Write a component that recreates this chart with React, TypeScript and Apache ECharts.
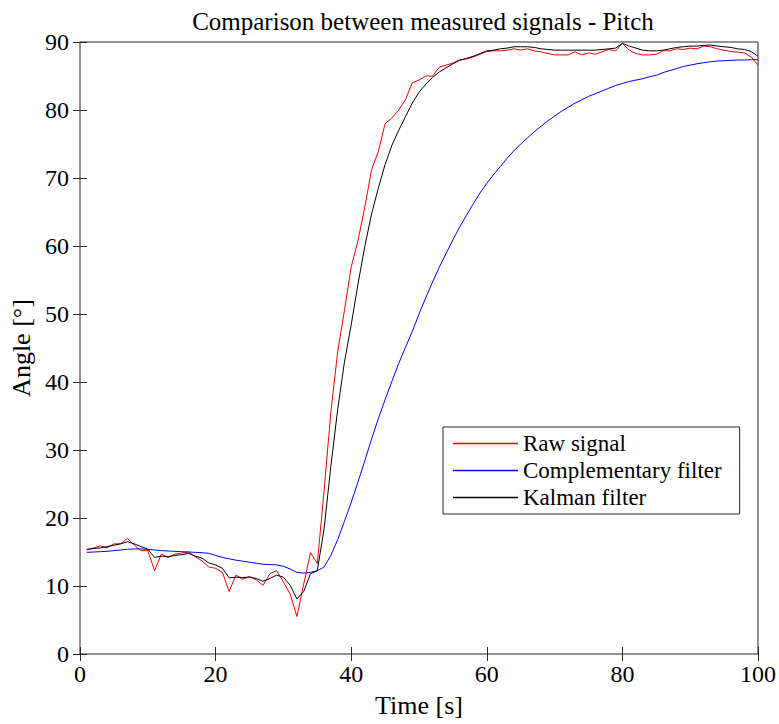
import React, { useEffect, useRef } from "react";
import * as echarts from "echarts";

// Sample times in seconds (one sample per second, 1..100)
const timeSec: number[] = Array.from({ length: 100 }, (_, i) => i + 1);

const xTicks = [0, 20, 40, 60, 80, 100];
const yTicks = [0, 10, 20, 30, 40, 50, 60, 70, 80, 90];

const seriesNames = ["Raw signal", "Complementary filter", "Kalman filter"];
const seriesColors = ["#ff0000", "#0000ff", "#000000"];

const rawSignal: number[] = [
  15.3, 15.6, 15.9, 15.6, 16.2, 16.2, 17.0, 16.0, 15.2, 15.2,
  12.25, 14.7, 14.2, 14.7, 14.85, 15.0, 14.3, 13.7, 12.8, 12.6,
  12.0, 9.2, 11.6, 11.0, 11.4, 10.9, 10.1, 11.8, 12.25, 10.6,
  8.8, 5.5, 10.3, 14.9, 13.3, 24.0, 35.6, 44.4, 50.5, 56.9,
  60.8, 65.7, 71.2, 73.9, 78.0, 78.8, 80.0, 81.5, 84.0, 84.4,
  85.0, 85.0, 86.3, 86.6, 86.9, 87.4, 87.5, 87.8, 88.2, 88.6,
  88.7, 88.7, 88.8, 89.0, 88.8, 89.0, 88.7, 88.55, 88.3, 88.1,
  88.1, 88.1, 88.55, 88.1, 88.4, 88.2, 88.55, 88.9, 88.7, 89.8,
  88.8, 88.3, 88.1, 88.1, 88.2, 88.7, 88.7, 89.0, 88.9, 89.1,
  89.0, 89.4, 89.3, 89.0, 88.8, 88.6, 88.5, 88.4, 87.8, 86.6,
];

const complementary: number[] = [
  14.95, 15.0, 15.05, 15.1, 15.2, 15.3, 15.4, 15.45, 15.45, 15.4,
  15.3, 15.2, 15.15, 15.1, 15.05, 15.0, 14.95, 14.9, 14.8, 14.5,
  14.2, 14.0, 13.8, 13.65, 13.5, 13.35, 13.2, 13.15, 13.1, 12.9,
  12.5, 12.0, 11.9, 12.0, 12.25, 12.8, 14.5, 16.8, 19.5, 22.3,
  25.3, 28.4, 31.6, 34.6, 37.4, 40.1, 42.7, 45.1, 47.4, 50.0,
  52.4, 54.7, 56.9, 58.9, 60.9, 62.8, 64.5, 66.2, 67.8, 69.2,
  70.5, 71.7, 72.9, 74.0, 75.0, 75.9, 76.8, 77.6, 78.4, 79.1,
  79.8, 80.4, 81.0, 81.5, 82.0, 82.4, 82.8, 83.2, 83.6, 83.9,
  84.2, 84.4, 84.6, 84.9, 85.1, 85.5, 85.8, 86.1, 86.4, 86.6,
  86.8, 86.95, 87.1, 87.2, 87.25, 87.3, 87.35, 87.35, 87.4, 87.4,
];

const kalman: number[] = [
  15.4, 15.5, 15.6, 15.8, 16.0, 16.2, 16.5, 16.2, 15.8, 15.4,
  14.2, 14.4, 14.3, 14.5, 14.6, 14.8, 14.4, 14.1, 13.4, 13.1,
  12.6, 11.2, 11.3, 11.25, 11.3, 11.1, 10.7, 11.1, 11.6, 11.3,
  10.1, 8.1, 9.2, 11.8, 12.25, 18.4, 27.6, 35.9, 42.9, 48.4,
  54.4, 59.9, 64.7, 68.5, 72.0, 74.8, 77.0, 79.0, 81.0, 82.6,
  83.8, 84.8, 85.6, 86.2, 86.8, 87.3, 87.6, 87.9, 88.3, 88.7,
  88.8, 89.0, 89.1, 89.3, 89.3, 89.3, 89.2, 89.0, 88.9, 88.8,
  88.8, 88.8, 88.8, 88.8, 88.8, 88.8, 88.9, 89.0, 89.1, 89.8,
  89.4, 89.1, 88.8, 88.7, 88.7, 88.8, 89.0, 89.2, 89.3, 89.4,
  89.4, 89.5, 89.55, 89.4, 89.3, 89.2, 89.0, 88.9, 88.6, 87.9,
];

const FONT = '"Liberation Serif", "Times New Roman", serif';
const AXIS_COLOR = "#262626";

export default function App() {
  const ref = useRef<HTMLDivElement>(null);

  useEffect(() => {
    if (!ref.current) return;
    const chart = echarts.init(ref.current, undefined, { renderer: "svg" });
    const pairs = (arr: number[]) => timeSec.map((t, i) => [t, arr[i]]);

    const baseX = {
      type: "value" as const,
      min: xTicks[0],
      max: xTicks[xTicks.length - 1],
      interval: xTicks[1] - xTicks[0],
      splitLine: { show: false },
      axisLine: { show: false },
    };
    const baseY = {
      type: "value" as const,
      min: yTicks[0],
      max: yTicks[yTicks.length - 1],
      interval: yTicks[1] - yTicks[0],
      splitLine: { show: false },
      axisLine: { show: false },
    };

    const dataSets = [rawSignal, complementary, kalman];

    chart.setOption({
      animation: false,
      backgroundColor: "#ffffff",
      title: {
        text: "Comparison between measured signals - Pitch",
        left: 418,
        textAlign: "center",
        top: 4,
        textStyle: { fontFamily: FONT, fontSize: 25, fontWeight: "normal", color: "#000" },
      },
      grid: {
        left: 79,
        right: 21,
        top: 42,
        bottom: 70,
        show: true,
        borderColor: AXIS_COLOR,
        borderWidth: 1,
        backgroundColor: "transparent",
      },
      legend: {
        orient: "vertical",
        left: 443,
        top: 427,
        data: seriesNames.map((name, i) => ({
          name,
          icon: "rect",
          itemStyle: { color: seriesColors[i], borderWidth: 0, opacity: 1 },
        })),
        itemWidth: 65,
        itemHeight: 1.5,
        itemGap: 4,
        padding: [5, 18, 5, 10],
        borderColor: AXIS_COLOR,
        borderWidth: 1,
        borderRadius: 0,
        backgroundColor: "#ffffff",
        textStyle: { fontFamily: FONT, fontSize: 23, color: "#000", lineHeight: 22 },
      },
      xAxis: [
        {
          ...baseX,
          position: "bottom",
          name: "Time [s]",
          nameLocation: "middle",
          nameGap: 38,
          nameTextStyle: { fontFamily: FONT, fontSize: 26, color: "#000" },
          axisTick: { show: true, inside: true, length: 7, lineStyle: { color: AXIS_COLOR } },
          axisLabel: { fontFamily: FONT, fontSize: 24, color: "#000", margin: 8 },
        },
        {
          ...baseX,
          position: "top",
          axisTick: { show: true, inside: true, length: 7, lineStyle: { color: AXIS_COLOR } },
          axisLabel: { show: false },
        },
      ],
      yAxis: [
        {
          ...baseY,
          position: "left",
          name: "Angle [°]",
          nameLocation: "middle",
          nameGap: 46,
          nameTextStyle: { fontFamily: FONT, fontSize: 26, color: "#000" },
          axisTick: { show: true, inside: true, length: 7, lineStyle: { color: AXIS_COLOR } },
          axisLabel: { fontFamily: FONT, fontSize: 24, color: "#000", margin: 11 },
        },
        {
          ...baseY,
          position: "right",
          axisTick: { show: true, inside: true, length: 7, lineStyle: { color: AXIS_COLOR } },
          axisLabel: { show: false },
        },
      ],
      series: seriesNames.map((name, i) => ({
        name,
        type: "line",
        data: pairs(dataSets[i]),
        symbol: "none",
        lineStyle: { color: seriesColors[i], width: 1 },
        itemStyle: { color: seriesColors[i] },
      })),
    });

    return () => chart.dispose();
  }, []);

  return (
    <div
      ref={ref}
      style={{ position: "fixed", left: 0, top: 0, width: 779, height: 724, background: "#fff" }}
    />
  );
}
